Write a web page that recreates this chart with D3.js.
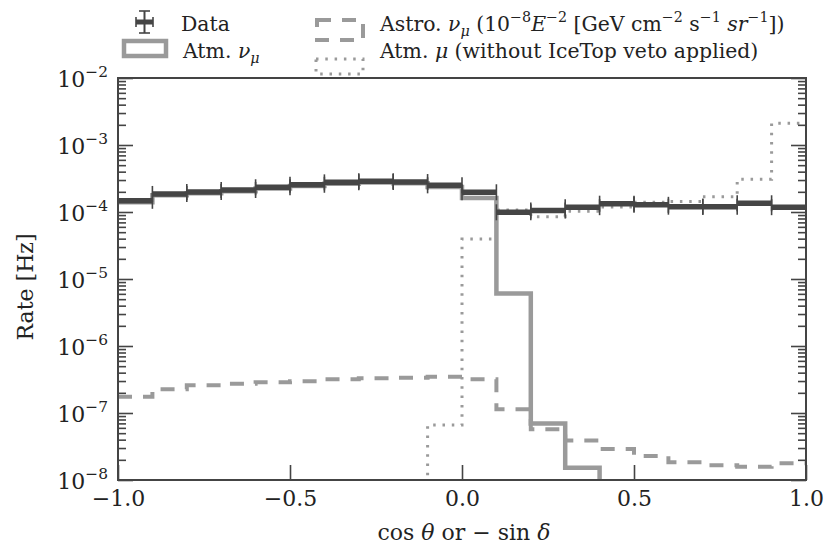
<!DOCTYPE html>
<html>
<head>
<meta charset="utf-8">
<script src="https://cdn.jsdelivr.net/npm/d3@7"></script>
<style>
  body { margin: 0; background: #fff; }
  svg { display: block; }
  text { font-family: "DejaVu Serif", serif; fill: #222; }
</style>
</head>
<body>
<svg id="chart" width="825" height="548"></svg>
<script>
// Bin edges in cos(theta) and per-bin rates [Hz]
const binEdges = [-1.0, -0.9, -0.8, -0.7, -0.6, -0.5, -0.4, -0.3, -0.2, -0.1,
                  0.0, 0.1, 0.2, 0.3, 0.4, 0.5, 0.6, 0.7, 0.8, 0.9, 1.0];

const dataRate = [1.47e-4, 1.86e-4, 1.99e-4, 2.13e-4, 2.34e-4, 2.55e-4, 2.77e-4, 2.87e-4, 2.80e-4, 2.50e-4,
                  1.97e-4, 9.9e-5, 1.05e-4, 1.18e-4, 1.33e-4, 1.28e-4, 1.20e-4, 1.20e-4, 1.35e-4, 1.18e-4];

const atmNuRate = [1.40e-4, 1.78e-4, 1.90e-4, 2.04e-4, 2.24e-4, 2.44e-4, 2.65e-4, 2.75e-4, 2.68e-4, 2.36e-4,
                   1.62e-4, 6.1e-6, 7.0e-8, 1.53e-8, 1e-9, 1e-9, 1e-9, 1e-9, 1e-9, 1e-9];

const astroRate = [1.75e-7, 2.26e-7, 2.59e-7, 2.74e-7, 2.87e-7, 2.97e-7, 3.19e-7, 3.30e-7, 3.36e-7, 3.48e-7,
                   3.20e-7, 1.14e-7, 5.7e-8, 3.9e-8, 2.9e-8, 2.28e-8, 1.84e-8, 1.66e-8, 1.58e-8, 1.78e-8];

const atmMuRate = [1e-9, 1e-9, 1e-9, 1e-9, 1e-9, 1e-9, 1e-9, 1e-9, 1e-9, 6.6e-8,
                   3.95e-5, 1.07e-4, 8.5e-5, 1.03e-4, 1.19e-4, 1.40e-4, 1.43e-4, 1.69e-4, 3.08e-4, 2.11e-3];

const xTicks = [-1.0, -0.5, 0.0, 0.5, 1.0];
const yDecades = [-8, -7, -6, -5, -4, -3, -2];

const DARK = "#454545", GRAY = "#9a9a9a", AXIS = "#444";
const FONT = '"DejaVu Serif", serif';

const svg = d3.select("#chart");
const plot = { left: 118, right: 806, top: 78, bottom: 480 };

const x = d3.scaleLinear().domain([-1, 1]).range([plot.left, plot.right]);
const y = d3.scaleLog().domain([1e-8, 1e-2]).range([plot.bottom, plot.top]);

svg.append("defs").append("clipPath").attr("id", "plotClip")
  .append("rect")
  .attr("x", plot.left).attr("y", plot.top)
  .attr("width", plot.right - plot.left).attr("height", plot.bottom - plot.top);

// Rich-text helper: segments of {t, s} where s is "i" (italic), "sup", "sub"
function richText(sel, segs, baseSize) {
  let shift = 0;
  segs.forEach(seg => {
    const ts = sel.append("tspan").text(seg.t);
    let target = 0;
    if (seg.s === "sup" || seg.s === "isup") target = -0.45 * baseSize;
    if (seg.s === "sub" || seg.s === "isub") target = 0.25 * baseSize;
    ts.attr("dy", target - shift);
    shift = target;
    if (seg.s === "sup" || seg.s === "sub" || seg.s === "isup" || seg.s === "isub")
      ts.style("font-size", (baseSize * 0.7) + "px");
    if (seg.s === "i" || seg.s === "isup" || seg.s === "isub") ts.style("font-style", "italic");
  });
  return sel;
}

// Step path through bin edges
function stepPath(values) {
  const pts = values.map((v, i) => [binEdges[i], v]);
  pts.push([binEdges[binEdges.length - 1], values[values.length - 1]]);
  return d3.line().x(d => x(d[0])).y(d => y(d[1])).curve(d3.curveStepAfter)(pts);
}

const g = svg.append("g").attr("clip-path", "url(#plotClip)");

// Atmospheric muons (dotted)
g.append("path").attr("d", stepPath(atmMuRate))
  .attr("fill", "none").attr("stroke", GRAY).attr("stroke-width", 3)
  .attr("stroke-dasharray", "2.5,6.8");

// Astrophysical E^-2 (dashed)
g.append("path").attr("d", stepPath(astroRate))
  .attr("fill", "none").attr("stroke", GRAY).attr("stroke-width", 4)
  .attr("stroke-dasharray", "14,11");

// Atmospheric neutrinos (solid)
g.append("path").attr("d", stepPath(atmNuRate))
  .attr("fill", "none").attr("stroke", GRAY).attr("stroke-width", 4.5);

// Data: horizontal bars with caps at the bin edges
const dataG = g.append("g");
dataRate.forEach((v, i) => {
  const x0 = x(binEdges[i]), x1 = x(binEdges[i + 1]), yy = y(v);
  dataG.append("line").attr("x1", x0).attr("x2", x1).attr("y1", yy).attr("y2", yy)
    .attr("stroke", DARK).attr("stroke-width", 5.5);
  [x0, x1].forEach(xc => {
    dataG.append("line").attr("x1", xc).attr("x2", xc).attr("y1", yy - 8).attr("y2", yy + 8)
      .attr("stroke", DARK).attr("stroke-width", 1.6);
  });
});

// Axes
const minorVals = [];
yDecades.slice(0, -1).forEach(d => {
  for (let k = 2; k <= 9; k++) minorVals.push(k * Math.pow(10, d));
});
const majorVals = yDecades.map(d => Math.pow(10, d));

function styleAxis(a) {
  a.select(".domain").remove();
  a.selectAll(".tick line").attr("stroke", AXIS).attr("stroke-width", 1.6);
}

svg.append("g").attr("transform", `translate(${plot.left},0)`)
  .call(d3.axisLeft(y).tickValues(majorVals).tickSize(-15).tickFormat(""))
  .call(styleAxis);
svg.append("g").attr("transform", `translate(${plot.left},0)`)
  .call(d3.axisLeft(y).tickValues(minorVals).tickSize(-8).tickFormat(""))
  .call(styleAxis);
svg.append("g").attr("transform", `translate(${plot.right},0)`)
  .call(d3.axisRight(y).tickValues(majorVals).tickSize(-15).tickFormat(""))
  .call(styleAxis);
svg.append("g").attr("transform", `translate(${plot.right},0)`)
  .call(d3.axisRight(y).tickValues(minorVals).tickSize(-8).tickFormat(""))
  .call(styleAxis);

const xAxis = svg.append("g").attr("transform", `translate(0,${plot.bottom})`)
  .call(d3.axisBottom(x).tickValues(xTicks).tickSize(-15).tickPadding(10).tickFormat(d3.format(".1f")));
styleAxis(xAxis);
xAxis.attr("font-family", null).attr("font-size", null);
xAxis.selectAll(".tick text")
  .style("font-family", FONT).style("font-size", "22px").attr("fill", "#222");

// Y tick labels 10^n
yDecades.forEach(d => {
  const t = svg.append("text").attr("x", 108).attr("y", y(Math.pow(10, d)) + 9)
    .attr("text-anchor", "end").style("font-size", "22px");
  richText(t, [{ t: "10" }, { t: "\u2212" + Math.abs(d), s: "sup" }], 22);
});

// Frame
svg.append("rect")
  .attr("x", plot.left).attr("y", plot.top)
  .attr("width", plot.right - plot.left).attr("height", plot.bottom - plot.top)
  .attr("fill", "none").attr("stroke", AXIS).attr("stroke-width", 2);

// Axis titles
const xt = svg.append("text").attr("x", 464).attr("y", 540)
  .attr("text-anchor", "middle").style("font-size", "22px");
richText(xt, [{ t: "cos " }, { t: "\u03B8", s: "i" }, { t: " or \u2212 sin " }, { t: "\u03B4", s: "i" }], 22);

svg.append("text").attr("transform", "translate(33,287) rotate(-90)")
  .attr("text-anchor", "middle").style("font-size", "22px").text("Rate [Hz]");

// Legend
const leg = svg.append("g");
// Data marker
leg.append("line").attr("x1", 136).attr("x2", 153).attr("y1", 22).attr("y2", 22)
  .attr("stroke", DARK).attr("stroke-width", 5);
leg.append("line").attr("x1", 144.5).attr("x2", 144.5).attr("y1", 11).attr("y2", 33)
  .attr("stroke", DARK).attr("stroke-width", 2);
[[139, 150, 11], [139, 150, 33]].forEach(c => {
  leg.append("line").attr("x1", c[0]).attr("x2", c[1]).attr("y1", c[2]).attr("y2", c[2])
    .attr("stroke", DARK).attr("stroke-width", 1.6);
});
[136, 153].forEach(xc => {
  leg.append("line").attr("x1", xc).attr("x2", xc).attr("y1", 17).attr("y2", 27)
    .attr("stroke", DARK).attr("stroke-width", 1.6);
});
// Atm nu marker
leg.append("rect").attr("x", 124).attr("y", 41).attr("width", 42).attr("height", 15)
  .attr("fill", "none").attr("stroke", GRAY).attr("stroke-width", 4.5);
// Astro marker
leg.append("rect").attr("x", 317).attr("y", 20).attr("width", 46).attr("height", 20)
  .attr("fill", "none").attr("stroke", GRAY).attr("stroke-width", 4)
  .attr("stroke-dasharray", "14,11");
// Atm mu marker
leg.append("rect").attr("x", 316).attr("y", 59).attr("width", 47).attr("height", 15)
  .attr("fill", "none").attr("stroke", GRAY).attr("stroke-width", 3)
  .attr("stroke-dasharray", "2.5,6.8");

const LS = 20.4;
richText(leg.append("text").attr("x", 181).attr("y", 31).style("font-size", LS + "px"),
  [{ t: "Data" }], LS);
richText(leg.append("text").attr("x", 183).attr("y", 58).style("font-size", LS + "px"),
  [{ t: "Atm. " }, { t: "\u03BD", s: "i" }, { t: "\u03BC", s: "isub" }], LS);
richText(leg.append("text").attr("x", 380).attr("y", 31).style("font-size", LS + "px"),
  [{ t: "Astro. " }, { t: "\u03BD", s: "i" }, { t: "\u03BC", s: "isub" },
   { t: " (10" }, { t: "\u22128", s: "sup" }, { t: "E", s: "i" }, { t: "\u22122", s: "sup" },
   { t: " [GeV cm" }, { t: "\u22122", s: "sup" }, { t: " s" }, { t: "\u22121", s: "sup" },
   { t: " " }, { t: "sr", s: "i" }, { t: "\u22121", s: "sup" }, { t: "])" }], LS);
richText(leg.append("text").attr("x", 380).attr("y", 58).style("font-size", LS + "px"),
  [{ t: "Atm. " }, { t: "\u03BC", s: "i" }, { t: " (without IceTop veto applied)" }], LS);
</script>
</body>
</html>
